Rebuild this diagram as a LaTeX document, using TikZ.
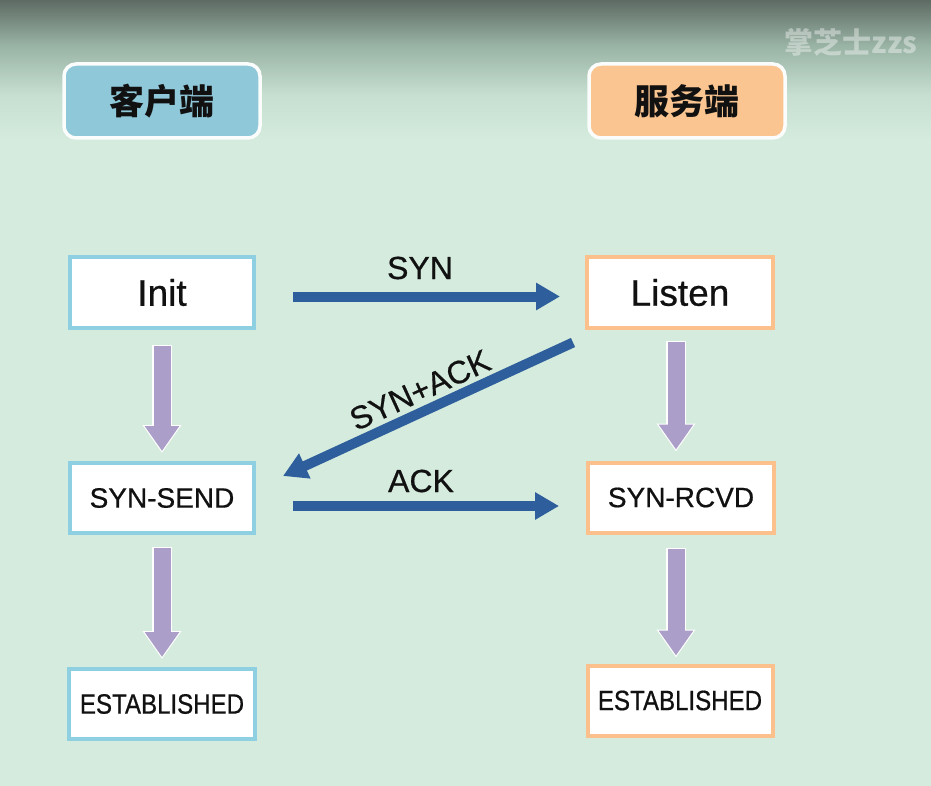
\documentclass[tikz,border=0pt]{standalone}
\usepackage{fontspec}
\setmainfont{Liberation Sans}[FakeBold=0.6]
\newfontfamily\cjk{Noto Sans CJK SC}
\usetikzlibrary{arrows.meta}
\definecolor{mint}{HTML}{D4EBDD}
\definecolor{topg}{HTML}{5E6B64}
\definecolor{midg}{HTML}{98B2A4}
\definecolor{lowg}{HTML}{C6DFD0}
\definecolor{hdrblue}{HTML}{8FC8D9}
\definecolor{hdrorange}{HTML}{FAC590}
\definecolor{bluebd}{HTML}{8ECFE1}
\definecolor{orangebd}{HTML}{FBC08C}
\definecolor{flowblue}{HTML}{2E5E9B}
\definecolor{lilac}{HTML}{AB9FC9}
\definecolor{ink}{HTML}{111111}
\begin{document}
\begin{tikzpicture}[x=1pt,y=-1pt,
  header/.style={rounded corners=12pt, line width=3.5pt, draw=white!90!mint, inner sep=0pt,
     minimum width=196pt, minimum height=74pt, font=\cjk\bfseries\fontsize{35}{38}\selectfont, text=ink},
  state/.style={fill=white, line width=4pt, inner sep=0pt, text=ink, minimum height=70pt},
  cstate/.style={state, draw=bluebd, minimum width=184pt},
  sstate/.style={state, draw=orangebd, minimum width=186pt},
  bigtxt/.style={font=\fontsize{37}{40}\selectfont},
  midtxt/.style={font=\fontsize{28}{30}\selectfont},
  lbl/.style={font=\fontsize{32}{34}\selectfont, text=ink, inner sep=0pt},
  flow/.style={draw=flowblue, line width=10pt, -{Triangle[width=26pt,length=24pt]}},
  downout/.style={draw=white, line width=20pt, -{Triangle[width=37pt,length=28pt]}},
  downin/.style={draw=lilac, line width=17pt, -{Triangle[width=33pt,length=25pt]}},
]
\useasboundingbox (0,0) rectangle (931,786);
% background
\fill[mint] (0,0) rectangle (931,786);
\shade[top color=topg, bottom color=midg] (0,0) rectangle (931,45);
\shade[top color=midg, bottom color=lowg] (0,45) rectangle (931,95);
\shade[top color=lowg, bottom color=mint] (0,95) rectangle (931,140);
\node[text=white, opacity=0.4, font=\cjk\bfseries\fontsize{29}{31}\selectfont] (wm) at (851,42) {掌芝士zzs};
% headers
\node[header, fill=hdrblue] (client) at (162,101) {客户端};
\node[header, fill=hdrorange] (server) at (687,101) {服务端};
% client states
\node[cstate, bigtxt] (init) at (162,292.5) {Init};
\node[cstate, midtxt] (synsend) at (162,498) {SYN-SEND};
\node[cstate, minimum width=186pt, midtxt] (estL) at (162,704) {\scalebox{0.86}[1]{ESTABLISHED}};
% server states
\node[sstate, bigtxt] (listen) at (680,292.5) {Listen};
\node[sstate, midtxt] (synrcvd) at (681,497.5) {SYN-RCVD};
\node[sstate, minimum width=185pt, midtxt] (estR) at (680,700.5) {\scalebox{0.86}[1]{ESTABLISHED}};
% vertical state transitions
\draw[downout] ([yshift=-15pt]init.south) -- ([yshift=8pt]synsend.north);
\draw[downin] ([yshift=-16pt]init.south) -- ([yshift=10pt]synsend.north);
\draw[downout] ([yshift=-12pt]synsend.south) -- ([yshift=8pt]estL.north);
\draw[downin] ([yshift=-13pt]synsend.south) -- ([yshift=10pt]estL.north);
\draw[downout] ([xshift=-4pt,yshift=-11pt]listen.south) -- ([xshift=-4pt,yshift=9pt]listen.south |- synrcvd.north);
\draw[downin] ([xshift=-4pt,yshift=-12pt]listen.south) -- ([xshift=-4pt,yshift=11pt]listen.south |- synrcvd.north);
\draw[downout] ([xshift=-5pt,yshift=-13pt]synrcvd.south) -- ([xshift=-5pt,yshift=6pt]synrcvd.south |- estR.north);
\draw[downin] ([xshift=-5pt,yshift=-14pt]synrcvd.south) -- ([xshift=-5pt,yshift=8pt]synrcvd.south |- estR.north);
% handshake arrows
\draw[flow] ([xshift=37pt,yshift=-4pt]init.east) -- ([xshift=-25pt,yshift=-4pt]init.east -| listen.west);
\node[lbl] (lsyn) at (420,268) {SYN};
\draw[flow] ([xshift=-12pt,yshift=-13pt]listen.south west) -- ([xshift=27pt,yshift=-15pt]synsend.north east);
\node[lbl, rotate=24.6] (lsynack) at (420,390) {SYN+ACK};
\draw[flow] ([xshift=37pt,yshift=-8pt]synsend.east) -- ([xshift=-27pt,yshift=-8pt]synsend.east -| synrcvd.west);
\node[lbl] (lack) at (421,481) {ACK};
\end{tikzpicture}
\end{document}
